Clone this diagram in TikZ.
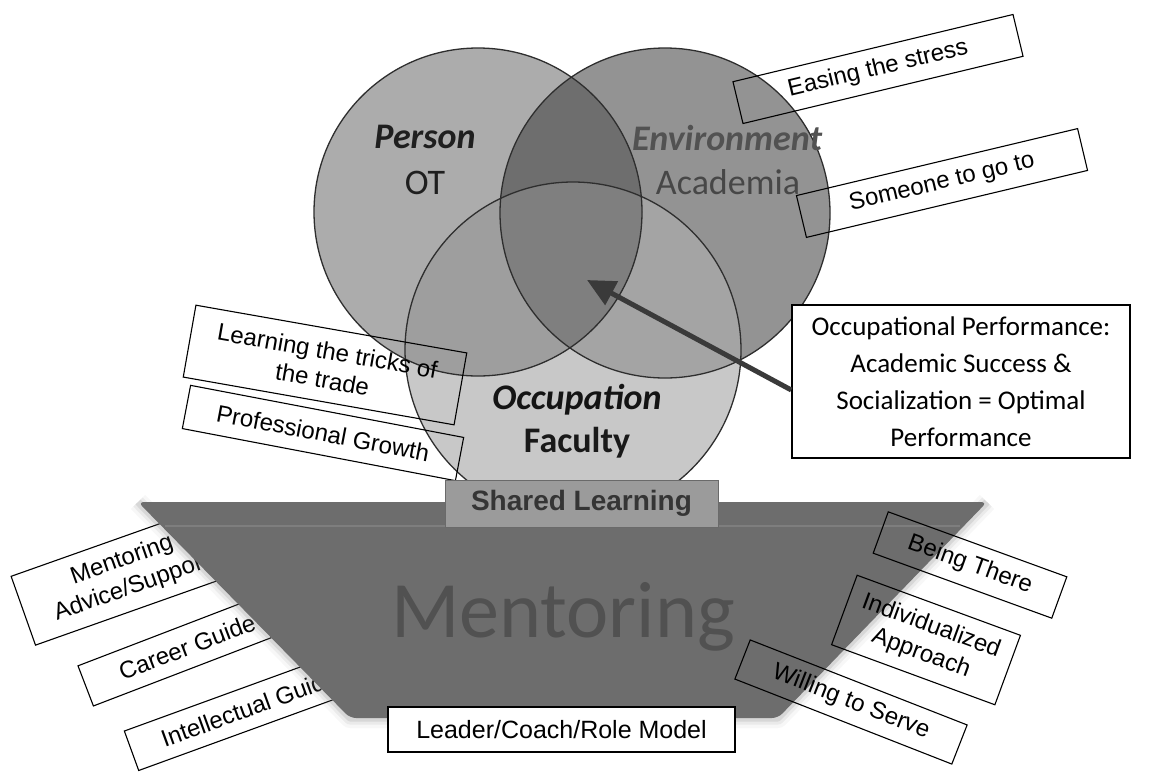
\documentclass[tikz,border=0pt]{standalone}
\usepackage{fontspec}
\setmainfont{Liberation Sans}
\newfontfamily\calfont{Carlito}
\usetikzlibrary{arrows.meta}

% region shades of the three-circle model
\definecolor{pOnly}{HTML}{ACACAC}
\definecolor{eOnly}{HTML}{939393}
\definecolor{oOnly}{HTML}{C8C8C8}
\definecolor{peCol}{HTML}{6E6E6E}
\definecolor{poCol}{HTML}{9E9E9E}
\definecolor{eoCol}{HTML}{A4A4A4}
\definecolor{peoCol}{HTML}{7F7F7F}
\definecolor{ringCol}{HTML}{2E2E2E}
% mentoring base
\definecolor{trapCol}{HTML}{6D6D6D}
\definecolor{mentCol}{HTML}{515151}
\definecolor{slFill}{HTML}{9B9B9B}
\definecolor{slBorder}{HTML}{6A6A6A}
\definecolor{slText}{HTML}{353535}
\definecolor{arrowCol}{HTML}{3A3A3A}

\begin{document}
\begin{tikzpicture}[x=1pt,y=-1pt,
  ring/.style={draw=ringCol, line width=1.3pt},
  tag/.style={draw=black, line width=1.1pt, inner sep=0pt, align=center,
              font=\fontsize{24}{29}\selectfont},
  wtag/.style={tag, fill=white},
  circlabel/.style={font=\fontsize{36}{40}\selectfont\calfont\bfseries\itshape},
  circsub/.style={font=\fontsize{36}{40}\selectfont\calfont}]
\useasboundingbox (0,0) rectangle (1161,777);
\fill[white] (0,0) rectangle (1161,777);

% centres of the Person / Environment / Occupation circles
\coordinate (P) at (478,212);
\coordinate (E) at (665,213);
\coordinate (O) at (573,350);

% single-circle fills
\fill[pOnly] (P) circle[radius=164pt];
\fill[eOnly] (E) circle[radius=165pt];
\fill[oOnly] (O) circle[radius=168pt];
% pairwise and triple overlaps
\begin{scope}
  \clip (E) circle[radius=165pt];
  \fill[eoCol] (O) circle[radius=168pt];
\end{scope}
\begin{scope}
  \clip (P) circle[radius=164pt];
  \fill[poCol] (O) circle[radius=168pt];
  \fill[peCol] (E) circle[radius=165pt];
  \clip (O) circle[radius=168pt];
  \fill[peoCol] (E) circle[radius=165pt];
\end{scope}
% outlines
\draw[ring] (P) circle[radius=164pt];
\draw[ring] (E) circle[radius=165pt];
\draw[ring] (O) circle[radius=168pt];

% circle captions
\node[circlabel, text=black!88] (person) at (425,137) {Person};
\node[circsub, text=black!88] (ot) at (425,183) {OT};
\node[circlabel, text=black!68] (env) at (727,138) {Environment};
\node[circsub, text=black!72] (acad) at (728,182) {Academia};
\node[circlabel, text=black!92] (occ) at (577,400) {Occupation};
\node[circsub, font=\fontsize{36}{40}\selectfont\calfont\bfseries, text=black!90] (fac) at (577,443) {Faculty};

% outcome callouts around the circles
\node[tag, rotate=13.5, minimum width=288pt, minimum height=43pt] (ease) at (878,69) {Easing the stress};
\node[tag, rotate=13.4, minimum width=289pt, minimum height=43pt] (someone) at (942,183) {Someone to go to};
\node[tag, rotate=-10, minimum width=275pt, minimum height=73pt] (tricks) at (325,365) {Learning the tricks of\\the trade};
\node[tag, rotate=-10.8, minimum width=278pt, minimum height=44pt] (growth) at (323,433) {Professional Growth};

% mentor roles on the left, tucked under the base
\node[wtag, rotate=19.5, minimum width=220pt, minimum height=73pt] (advice) at (127,574) {Mentoring\\Advice/Support};
\node[wtag, rotate=21, minimum width=217pt, minimum height=43pt] (career) at (187,647) {Career Guide};
\node[wtag, rotate=20, minimum width=250pt, minimum height=42pt] (intel) at (249,708) {Intellectual Guide};

% mentoring base: soft edge, then the body
\foreach \w/\o in {20/0.05,13/0.09,7/0.15}{
  \draw[trapCol, line width=\w pt, opacity=\o, line join=round]
    (138,502) -- (350,718) -- (778,718) -- (987,502);
}
\fill[trapCol, rounded corners=6pt] (138,502) -- (987,502) -- (778,718) -- (350,718) -- cycle;
\draw[white, opacity=0.12, line width=2pt] (165,526) -- (960,526);
\node[font=\fontsize{80}{80}\selectfont\calfont, text=mentCol, anchor=base] (ment) at (563,637) {Mentoring};

% mentor qualities on the right, lying over the base
\node[tag, rotate=-20, minimum width=190pt, minimum height=44pt] (there) at (970,565) {Being There};
\node[tag, rotate=-20.2, minimum width=174pt, minimum height=74pt] (indiv) at (926,640) {Individualized\\Approach};
\node[tag, rotate=-21.4, minimum width=233pt, minimum height=42pt] (serve) at (851,702) {Willing to Serve};

% shared learning bridge and the base role
\node[draw=slBorder, fill=slFill, line width=1pt, minimum width=273pt, minimum height=47pt,
      inner sep=0pt, font=\bfseries\fontsize{28}{28}\selectfont, text=slText] (shared) at (581.5,503.5) {Shared Learning};
\node[wtag, font=\fontsize{25}{29}\selectfont, minimum width=347pt, minimum height=45pt] (leader) at (561.5,729.5) {Leader/Coach/Role Model};

% outcome box and pointer into the centre
\node[draw=black, line width=1.5pt, fill=white, minimum width=338pt, minimum height=153pt,
      inner sep=0pt, align=center, font=\fontsize{27}{37}\selectfont\calfont] (perf) at (961,381.5)
      {Occupational Performance:\\Academic Success \&\\Socialization = Optimal\\Performance};
\coordinate (tip) at (587,280);
\draw[arrowCol, line width=5pt, -{Triangle[length=28pt,width=26pt]}] ([yshift=-8.5pt]perf.west) -- (tip);
\end{tikzpicture}
\end{document}
